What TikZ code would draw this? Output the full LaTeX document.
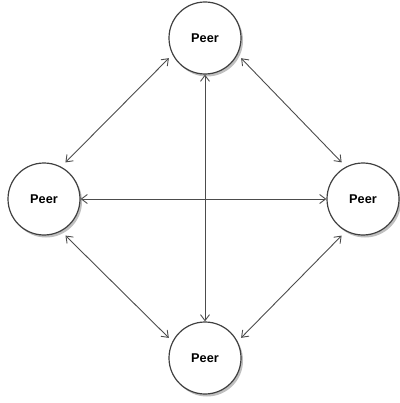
\documentclass[tikz,border=0pt]{standalone}
\usepackage{fontspec}
\setmainfont{Liberation Sans}
\usetikzlibrary{arrows.meta,shadows}

\begin{document}
\begin{tikzpicture}[x=1pt, y=-1pt, >={Straight Barb[length=6pt,width=9pt]},
        peer/.style = {draw=black!75, line width=1.2pt, circle, fill=white, minimum size=72pt, inner sep=0pt,
            font=\fontsize{12.7}{14}\selectfont\bfseries,
            drop shadow={shadow xshift=2pt, shadow yshift=-2.5pt, opacity=0.25, fill=black}},
        link/.style = {<->, draw=black!70, line width=0.9pt}]
        \useasboundingbox (0,0) rectangle (399,403);
        \node[peer] (p_top) at (205,38) {Peer};
        \node[peer] (p_left) at (44,199) {Peer};
        \node[peer] (p_right) at (363,199) {Peer};
        \node[peer] (p_bottom) at (205,358) {Peer};

        % straight links through the middle
        \draw[link] (p_top) -- (p_bottom);
        \draw[link] (p_left) -- (p_right);

        % links round the ring
        \draw[link, shorten <=5pt, shorten >=6pt] (p_top.207) -- (p_left.62);
        \draw[link, shorten <=5pt, shorten >=6pt] (p_top.333) -- (p_right.118);
        \draw[link, shorten <=6pt, shorten >=5pt] (p_left.298) -- (p_bottom.153);
        \draw[link, shorten <=6pt, shorten >=5pt] (p_right.242) -- (p_bottom.27);
    \end{tikzpicture}
\end{document}
